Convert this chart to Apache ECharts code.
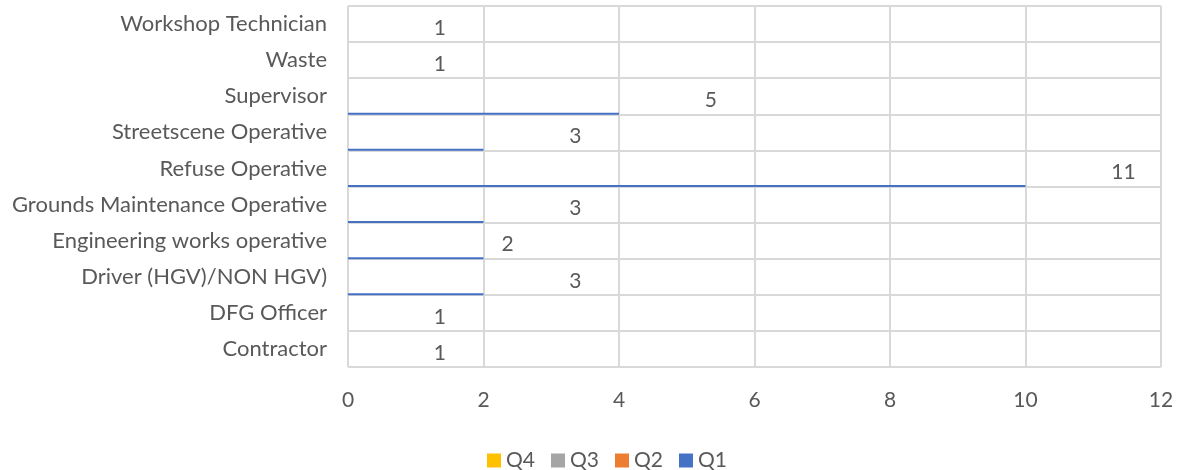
<!DOCTYPE html>
<html>
<head>
<meta charset="utf-8">
<script src="https://cdn.jsdelivr.net/npm/echarts@6/dist/echarts.min.js"></script>
<style>
  html, body { margin: 0; padding: 0; background: #ffffff; }
  #chart { width: 1180px; height: 470px; }
</style>
</head>
<body>
<div id="chart"></div>
<script>
var roles = ['Workshop Technician', 'Waste', 'Supervisor', 'Streetscene Operative', 'Refuse Operative',
    'Grounds Maintenance Operative', 'Engineering works operative', 'Driver (HGV)/NON HGV)', 'DFG Officer', 'Contractor'];
var q1 = [0, 0, 4, 2, 10, 2, 2, 2, 0, 0];
var q2 = [0, 0, 0, 0, 0, 0, 0, 0, 0, 0];
var q3 = [0, 0, 0, 0, 0, 0, 0, 0, 0, 0];
var q4 = [0, 0, 0, 0, 0, 0, 0, 0, 0, 0];
var totals = [1, 1, 5, 3, 11, 3, 2, 3, 1, 1];
var xTicks = [0, 2, 4, 6, 8, 10, 12];

var chart = echarts.init(document.getElementById('chart'));
var font = 'Lato';
var grey = '#d9d9d9';
var textColor = '#595959';

function quarter(name, data, color) {
    return {
        name: name,
        type: 'bar',
        stack: 'q',
        barWidth: 2,
        barGap: '0%',
        itemStyle: { color: color },
        data: data,
        animation: false
    };
}

var option = {
    backgroundColor: '#ffffff',
    textStyle: { fontFamily: font },
    grid: { left: 348, right: 19, top: 6, bottom: 103 },
    legend: {
        data: ['Q4', 'Q3', 'Q2', 'Q1'],
        top: 445,
        left: 482,
        icon: 'rect',
        itemWidth: 14,
        itemHeight: 14,
        itemGap: 16,
        textStyle: { color: textColor, fontSize: 21, fontFamily: font }
    },
    xAxis: {
        type: 'value',
        min: xTicks[0],
        max: xTicks[xTicks.length - 1],
        interval: 2,
        axisLine: { show: false },
        axisTick: { show: false },
        axisLabel: { color: textColor, fontSize: 21, margin: 23, fontFamily: font },
        splitLine: { lineStyle: { color: grey, width: 2 } }
    },
    yAxis: {
        type: 'category',
        data: roles,
        inverse: true,
        axisLine: { show: false },
        axisTick: { show: false },
        axisLabel: { color: textColor, fontSize: 22, margin: 21, fontFamily: font },
        splitLine: { show: true, lineStyle: { color: grey, width: 2 } }
    },
    series: [
        {
            name: 'Total',
            type: 'bar',
            stack: 'lbl',
            barWidth: 35,
            barGap: '0%',
            itemStyle: { color: 'rgba(0,0,0,0)' },
            label: {
                show: true,
                position: 'right',
                distance: 18,
                offset: [0, 5],
                color: textColor,
                fontSize: 21,
                fontFamily: font
            },
            data: totals,
            silent: true,
            animation: false
        },
        quarter('Q1', q1, '#4472c4'),
        quarter('Q2', q2, '#ed7d31'),
        quarter('Q3', q3, '#a5a5a5'),
        quarter('Q4', q4, '#ffc000')
    ]
};
chart.setOption(option);
</script>
</body>
</html>
